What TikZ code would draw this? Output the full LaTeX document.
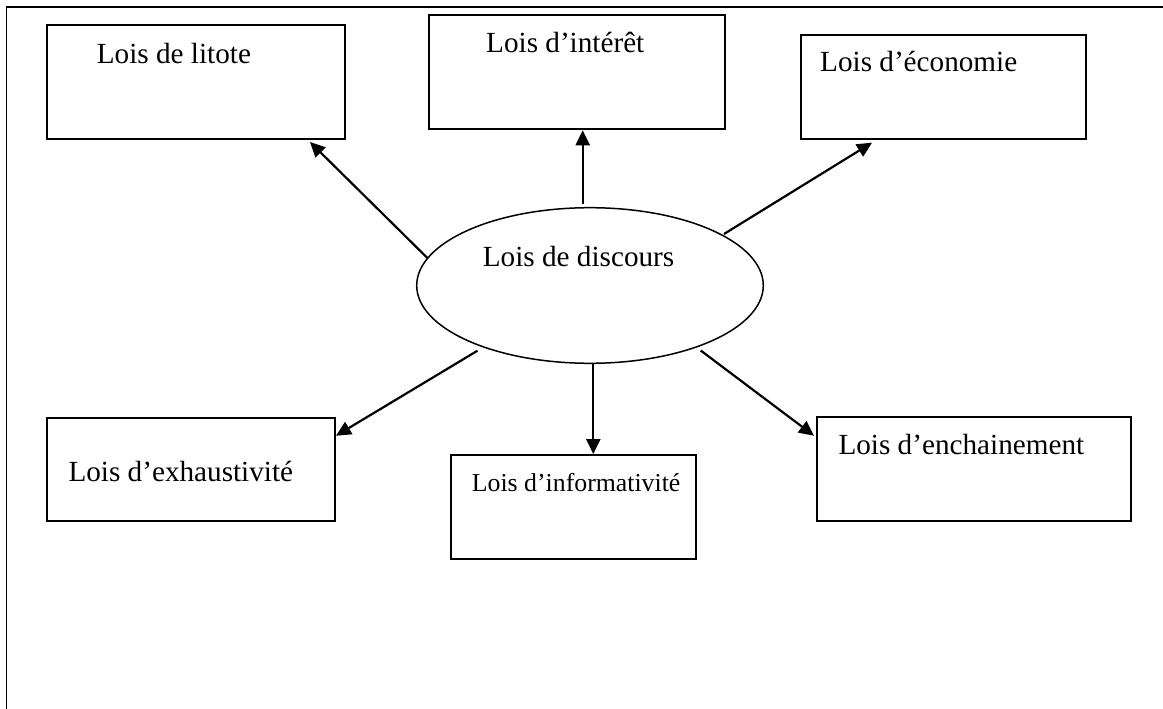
\documentclass[tikz,border=0pt]{standalone}
\usepackage{fontspec}
\setmainfont{Liberation Serif}
\usetikzlibrary{shapes.geometric,arrows.meta}
\begin{document}
\begin{tikzpicture}[x=1pt,y=-1pt,
  boxnode/.style={draw,line width=1.9pt,inner sep=0pt,minimum width=#1},
  txt/.style={anchor=base west,inner sep=0pt,font=\fontsize{29.2}{35}\selectfont},
  arr/.style={line width=2.2pt,-{Triangle[length=15pt,width=14pt]}},
  frameline/.style={line width=1.8pt}]
\useasboundingbox (0,0) rectangle (1163,709);
\draw[frameline] (6.5,709) -- (6.5,6.7) -- (1163,6.7);
% boxes
\node[boxnode=298.3pt,minimum height=114.3pt] (litote) at (195.85,82.15) {};
\node[boxnode=295.7pt,minimum height=114.3pt] (interet) at (577.15,72.15) {};
\node[boxnode=285pt,minimum height=104.3pt] (economie) at (943.2,87.15) {};
\node[boxnode=288.3pt,minimum height=103.3pt] (exhaust) at (190.85,469.35) {};
\node[boxnode=245.3pt,minimum height=104pt] (inform) at (573.35,507) {};
\node[boxnode=314.3pt,minimum height=103.4pt] (enchain) at (973.85,469) {};
% ellipse
\node[draw,ellipse,line width=1.5pt,inner sep=0pt,minimum width=346.6pt,minimum height=155.6pt] (disc) at (590,285.5) {};
% texts
\node[txt] (tlitote) at (96.7,63.3) {Lois de litote};
\node[txt] (tinteret) at (486,53) {Lois d’intérêt};
\node[txt] (teconomie) at (820,71.7) {Lois d’économie};
\node[txt] (tdisc) at (482.7,266) {Lois de discours};
\node[txt] (texhaust) at (68.3,481.7) {Lois d’exhaustivité};
\node[txt,font=\fontsize{25.8}{31}\selectfont] (tinform) at (471.7,491.7) {Lois d’informativité};
\node[txt] (tenchain) at (838.3,454) {Lois d’enchainement};
% arrows
\draw[arr] ([xshift=-7.3pt,yshift=81.5pt]disc.center) -- ([xshift=5.55pt]interet.south);
\draw[arr] ([xshift=-162.3pt,yshift=27.2pt]disc.center) -- ([xshift=-36pt,yshift=-1.7pt]litote.south east);
\draw[arr] ([xshift=134pt,yshift=51.5pt]disc.center) -- ([xshift=72.3pt,yshift=-2.4pt]economie.south west);
\draw[arr] ([xshift=-112.5pt,yshift=-65.2pt]disc.center) -- ([yshift=-19pt]exhaust.north east);
\draw[arr] ([xshift=3.3pt,yshift=-77.8pt]disc.center) -- ([xshift=19.95pt]inform.north);
\draw[arr] ([xshift=110.7pt,yshift=-65pt]disc.center) -- ([xshift=-1.7pt,yshift=-19.4pt]enchain.north west);
\end{tikzpicture}
\end{document}
